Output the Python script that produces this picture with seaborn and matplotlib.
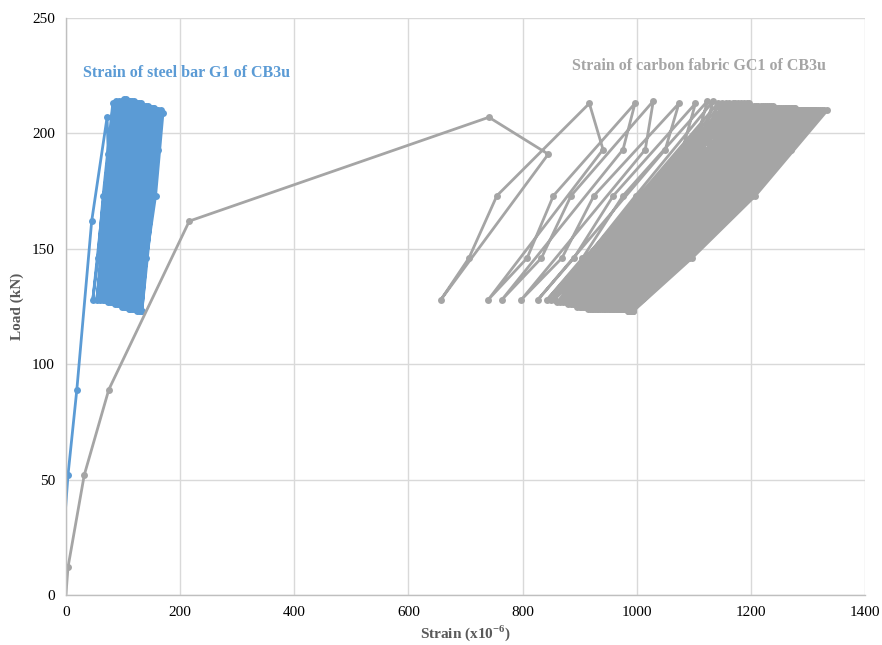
# load vs strain curves, CB3u beam (fatigue cycles)
import numpy as np
import pandas as pd
import matplotlib
matplotlib.use("Agg")
import matplotlib.pyplot as plt
import seaborn as sns

# ------------------------------
# data
# ------------------------------
# steel bar G1: first loading, then the load cycles
steel_init_x = [-12, 3.5, 19, 45, 72, 74]
steel_init_y = [0, 52, 89, 162, 207, 191]
steel_min_x = [47, 54, 59, 64, 69, 73, 77, 80, 83, 86, 89, 92, 95, 98, 101, 104,
               107, 110, 113, 116, 119, 122, 125, 128, 131, 133]
steel_min_y = [128, 128, 128, 128, 128, 127, 127, 127, 127, 126, 126, 126, 126,
               125, 125, 125, 125, 124, 124, 124, 124, 124, 123, 123, 123, 123]
steel_x146 = [56, 62, 67, 72, 77, 81, 85, 88, 91, 94, 97, 100, 103, 106, 109, 112,
              115, 118, 121, 124, 127, 130, 133, 136, 139, 141]
steel_x173 = [65, 71, 76, 81, 86, 90, 94, 97, 100, 103, 106, 109, 112, 115, 118,
              121, 124, 127, 130, 133, 136, 139, 142, 146, 150, 157]
steel_max_x = [82, 88, 93, 98, 102, 106, 110, 113, 116, 119, 122, 125, 128, 131,
               134, 137, 140, 143, 146, 149, 152, 155, 158, 162, 166, 170]
steel_max_y = [213, 214, 214, 214, 215, 215, 214, 214, 214, 214, 213, 213, 213,
               213, 212, 212, 212, 212, 211, 211, 211, 211, 210, 210, 210, 209]
steel_unl_x = [78, 84, 89, 94, 98, 102, 106, 109, 112, 115, 118, 121, 124, 127,
               130, 133, 136, 139, 142, 145, 148, 151, 154, 158, 162]

# carbon fabric GC1
fabric_init_x = [-2, 3.5, 32, 75, 216, 741, 845]
fabric_init_y = [-6, 12, 52, 89, 162, 207, 191]
fabric_min_x = [657, 740, 764, 798, 827, 843,
                850, 856, 861, 866, 871, 876, 880, 884, 888, 892,
                896, 900, 903, 906, 909, 912, 915, 918, 921, 924,
                927, 930, 933, 936, 939, 942, 945, 948, 951, 954,
                957, 959, 961, 963, 965, 967, 969, 971, 973, 975,
                976, 978, 979, 981, 982, 984, 985, 986, 987, 988,
                989, 990, 990, 991, 991, 992, 992, 993, 993, 994]
fabric_min_y = [128, 128, 128, 128, 128, 128,
                128, 128, 127, 127, 127, 127, 126, 126, 126, 126,
                125, 125, 125, 125, 125, 125, 124, 124, 124, 124,
                124, 124, 124, 124, 124, 124, 124, 124, 124, 124,
                124, 124, 124, 124, 124, 124, 124, 124, 124, 124,
                124, 124, 124, 124, 124, 123, 123, 123, 123, 123,
                123, 123, 123, 123, 123, 123, 123, 123, 123, 123]
fabric_x146 = [706, 808, 833, 869, 890, 905,
               911, 917, 922, 927, 932, 937, 941, 945, 949, 953,
               958, 962, 965, 968, 971, 974, 977, 980, 983, 986,
               991, 994, 997, 1000, 1003, 1006, 1009, 1012, 1015, 1018,
               1023, 1026, 1028, 1031, 1033, 1036, 1039, 1041, 1044, 1047,
               1049, 1051, 1053, 1056, 1058, 1061, 1063, 1065, 1067, 1069,
               1071, 1074, 1075, 1078, 1080, 1083, 1085, 1089, 1092, 1097]
fabric_x173 = [755, 854, 885, 925, 959, 976,
               998, 1004, 1009, 1014, 1019, 1024, 1028, 1032, 1036, 1040,
               1050, 1054, 1057, 1060, 1063, 1066, 1069, 1072, 1075, 1078,
               1085, 1088, 1091, 1094, 1097, 1100, 1103, 1106, 1109, 1112,
               1117, 1120, 1123, 1126, 1129, 1132, 1135, 1138, 1141, 1144,
               1146, 1149, 1151, 1155, 1157, 1161, 1163, 1166, 1169, 1172,
               1175, 1178, 1180, 1183, 1186, 1190, 1193, 1198, 1202, 1208]
fabric_max_x = [917, 997, 1029, 1074, 1103, 1124,
                1134, 1142, 1149, 1156, 1162, 1168, 1173, 1178, 1183, 1188,
                1193, 1197, 1201, 1205, 1209, 1213, 1217, 1221, 1225, 1229,
                1232, 1235, 1238, 1241, 1244, 1247, 1250, 1253, 1256, 1259,
                1262, 1265, 1267, 1270, 1272, 1275, 1277, 1280, 1282, 1285,
                1287, 1289, 1291, 1293, 1295, 1297, 1299, 1301, 1303, 1305,
                1307, 1309, 1311, 1313, 1315, 1318, 1321, 1325, 1329, 1334]
fabric_max_y = [213, 213, 214, 213, 213, 214,
                214, 213, 213, 213, 213, 213, 213, 213, 213, 213,
                213, 213, 212, 212, 212, 212, 212, 212, 212, 212,
                212, 212, 212, 211, 211, 211, 211, 211, 211, 211,
                211, 211, 211, 211, 211, 211, 211, 210, 210, 210,
                210, 210, 210, 210, 210, 210, 210, 210, 210, 210,
                210, 210, 210, 210, 210, 210, 210, 210, 210, 210]
fabric_unl_x = [941, 976, 1015, 1050, 1080, 1100,
                1109, 1117, 1124, 1131, 1137, 1143, 1148, 1153, 1158, 1163,
                1168, 1172, 1176, 1180, 1184, 1188, 1192, 1196, 1200, 1204,
                1197, 1200, 1203, 1206, 1209, 1212, 1215, 1218, 1221, 1224,
                1217, 1219, 1220, 1222, 1223, 1225, 1226, 1228, 1229, 1231,
                1232, 1234, 1235, 1237, 1238, 1240, 1241, 1243, 1244, 1246,
                1248, 1250, 1252, 1254, 1256, 1259, 1262, 1266, 1270]

cycle_mid_loads = [146, 173]
unload_load = 193


def build_path(init_x, init_y, mn_x, mn_y, x146, x173, mx_x, mx_y, unl_x):
    """Chain first loading + cycles (min -> mids -> max -> unload) in order."""
    xs, ys = list(init_x), list(init_y)
    for i in range(len(mn_x)):
        xs += [mn_x[i], x146[i], x173[i], mx_x[i]]
        ys += [mn_y[i], cycle_mid_loads[0], cycle_mid_loads[1], mx_y[i]]
        if i < len(unl_x):
            xs.append(unl_x[i])
            ys.append(unload_load)
    return pd.DataFrame({"strain": xs, "load": ys})


steel = build_path(steel_init_x, steel_init_y, steel_min_x, steel_min_y,
                   steel_x146, steel_x173, steel_max_x, steel_max_y, steel_unl_x)
fabric = build_path(fabric_init_x, fabric_init_y, fabric_min_x, fabric_min_y,
                    fabric_x146, fabric_x173, fabric_max_x, fabric_max_y, fabric_unl_x)

# ------------------------------
# plot
# ------------------------------
sns.set_theme(style="whitegrid")
plt.rcParams["font.family"] = ["Liberation Serif", "DejaVu Serif"]
plt.rcParams["mathtext.fontset"] = "custom"
plt.rcParams["mathtext.rm"] = "Liberation Serif"
plt.rcParams["mathtext.bf"] = "Liberation Serif:bold"

blue = "#5B9BD5"
grey = "#A5A5A5"

fig = plt.figure(figsize=(8.82, 6.45), dpi=100)
ax = fig.add_axes([66 / 882, 1 - 595 / 645, (865 - 66) / 882, (595 - 18) / 645])

sns.lineplot(data=steel, x="strain", y="load", sort=False, estimator=None,
             color=blue, linewidth=2.0, marker="o", markersize=5,
             markeredgewidth=0, ax=ax)
sns.lineplot(data=fabric, x="strain", y="load", sort=False, estimator=None,
             color=grey, linewidth=2.0, marker="o", markersize=5,
             markeredgewidth=0, ax=ax)

ax.set_xlim(0, 1400)
ax.set_ylim(0, 250)
ax.set_xticks(np.arange(0, 1401, 200))
ax.set_yticks(np.arange(0, 251, 50))
ax.grid(True, color="#D9D9D9", linewidth=1.0)
ax.set_facecolor("white")
for side in ["top", "right"]:
    ax.spines[side].set_visible(False)
for side in ["left", "bottom"]:
    ax.spines[side].set_color("#BFBFBF")
    ax.spines[side].set_linewidth(1.0)
ax.tick_params(length=0, labelsize=11, labelcolor="#000000", pad=8)

ax.set_xlabel("Strain (x10$^{\\mathbf{-6}}$)", fontsize=11, fontweight="bold",
              color="#595959", labelpad=3)
ax.set_ylabel("Load (kN)", fontsize=11, fontweight="bold", color="#595959",
              labelpad=6)

ax.text(30, 226, "Strain of steel bar G1 of CB3u", color=blue, fontsize=11.5,
        fontweight="bold", va="center", ha="left")
ax.text(887, 229, "Strain of carbon fabric GC1 of CB3u", color=grey, fontsize=11.5,
        fontweight="bold", va="center", ha="left")

fig.savefig("out.png", dpi=100)
